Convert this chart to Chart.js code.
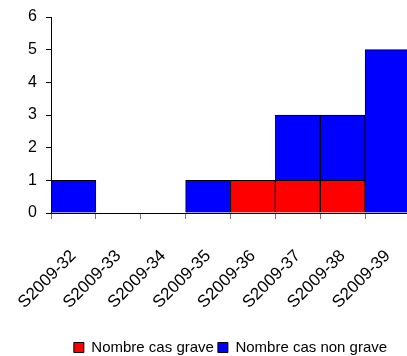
<!DOCTYPE html>
<html>
<head>
<meta charset="utf-8">
<script src="https://cdn.jsdelivr.net/npm/chart.js@4/dist/chart.umd.min.js"></script>
<style>
  html, body { margin: 0; padding: 0; background: #fff; overflow: hidden; }
  #wrap { position: relative; width: 410px; height: 356px; }
</style>
</head>
<body>
<div id="wrap"><canvas id="chart"></canvas></div>
<script>
// Semaines et nombre de cas
const semaines = ['S2009-32', 'S2009-33', 'S2009-34', 'S2009-35', 'S2009-36', 'S2009-37', 'S2009-38', 'S2009-39'];
const casGrave = [0, 0, 0, 0, 1, 1, 1, 0];
const casNonGrave = [1, 0, 0, 1, 0, 2, 2, 5];
const yTicks = [0, 1, 2, 3, 4, 5, 6];

Chart.defaults.font.family = '"Liberation Sans", Arial, sans-serif';
Chart.defaults.color = '#000';

new Chart(document.getElementById('chart'), {
    type: 'bar',
    data: {
        labels: semaines,
        datasets: [
            {
                label: 'Nombre cas grave',
                data: casGrave,
                backgroundColor: '#ff0000',
                borderColor: '#000',
                borderWidth: 1,
            },
            {
                label: 'Nombre cas non grave',
                data: casNonGrave,
                backgroundColor: '#0000ff',
                borderColor: '#000',
                borderWidth: 1,
            },
        ],
    },
    options: {
        responsive: true,
        maintainAspectRatio: false,
        animation: false,
        barPercentage: 1,
        categoryPercentage: 1,
        layout: { padding: { top: 17, right: 0, left: 0, bottom: -9 } },
        plugins: {
            legend: {
                position: 'bottom',
                fullSize: false,
                labels: {
                    boxWidth: 10,
                    boxHeight: 10,
                    padding: 4,
                    font: { size: 15 },
                },
            },
            tooltip: { enabled: false },
        },
        scales: {
            x: {
                stacked: true,
                offset: true,
                border: { color: '#000', width: 1 },
                grid: {
                    offset: true,
                    drawOnChartArea: false,
                    tickLength: 6,
                    color: '#777',
                },
                ticks: {
                    minRotation: 45,
                    maxRotation: 45,
                    padding: 27,
                    font: { size: 17 },
                },
                afterFit: axis => {
                    axis.height = 123;
                    axis.paddingLeft = 0;
                    axis.paddingRight = 0;
                },
            },
            y: {
                stacked: true,
                min: 0,
                max: 6,
                afterBuildTicks: axis => { axis.ticks = yTicks.map(v => ({ value: v })); },
                afterFit: axis => {
                    axis.width = 51;
                    axis.paddingTop = 0;
                    axis.paddingBottom = 0;
                },
                border: { color: '#000', width: 1 },
                grid: {
                    drawOnChartArea: false,
                    tickLength: 5,
                    color: '#000',
                },
                ticks: {
                    padding: 9,
                    font: { size: 16 },
                },
            },
        },
    },
});
</script>
</body>
</html>
